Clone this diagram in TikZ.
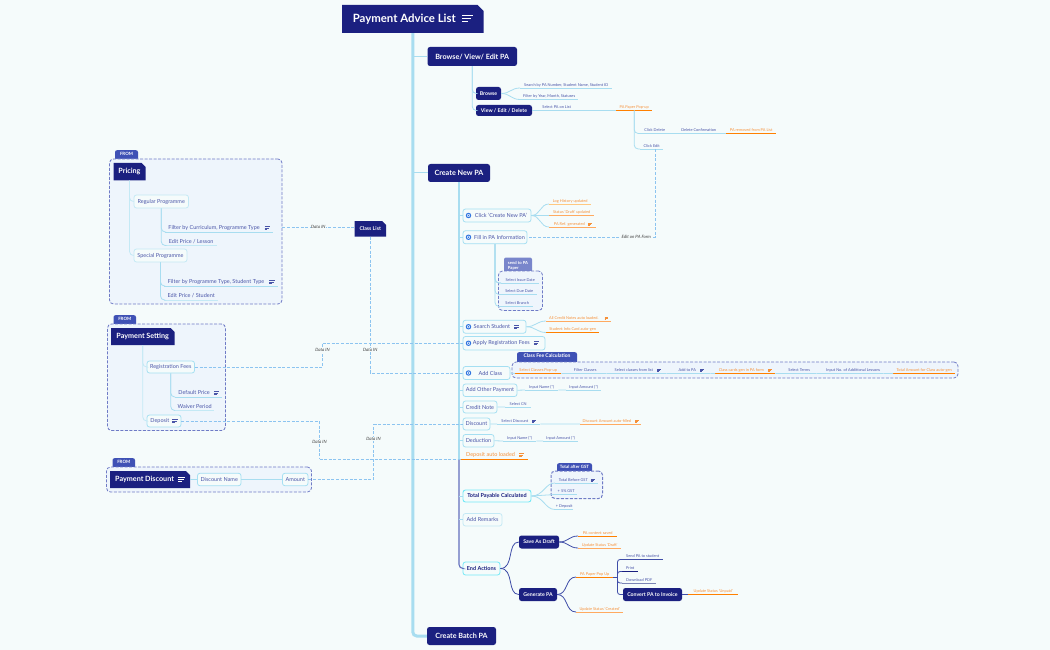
\documentclass[tikz,border=0pt]{standalone}
\usepackage{fontspec}
\setmainfont{Lato}
\usetikzlibrary{shapes.misc}
\definecolor{pagebg}{HTML}{F5FBFB}
\definecolor{navy}{HTML}{1B2080}
\definecolor{ink}{HTML}{4A55A8}
\definecolor{tabblue}{HTML}{3F51B5}
\definecolor{tabsoft}{HTML}{7986CB}
\definecolor{grpfill}{HTML}{EEF5FC}
\definecolor{grpedge}{HTML}{6F7BC6}
\definecolor{sky}{HTML}{A8DDF0}
\definecolor{skysoft}{HTML}{C4E9F5}
\definecolor{pilledge}{HTML}{A5DFF2}
\definecolor{dashln}{HTML}{8CC4F0}
\definecolor{orgA}{HTML}{FF8000}
\definecolor{orgB}{HTML}{FFAA60}
\definecolor{orgC}{HTML}{FFC880}
\definecolor{orgtxt}{HTML}{F5913A}
\definecolor{indigo}{HTML}{3F4DA8}
\definecolor{tickblue}{HTML}{2F74E0}
\newcommand{\tinyf}{\fontsize{3.9}{5}\selectfont}
\newcommand{\midf}{\fontsize{5.5}{6.6}\selectfont}
\newcommand{\topf}{\fontsize{7.2}{8.6}\bfseries\selectfont}
\newcommand{\subf}{\fontsize{5.2}{6.2}\bfseries\selectfont}
\newcommand{\noteic}{\raisebox{.05em}{\vbox{\hrule width .95em height .07em \vskip .17em \hrule width .8em height .07em \vskip .17em \hrule width .5em height .07em}}}
\tikzset{
 chamf/.style={chamfered rectangle,chamfered rectangle corners=north east,chamfered rectangle sep=2pt,fill=navy,text=white,font=\topf,inner sep=0},
 topic/.style={rectangle,rounded corners=2.5,fill=navy,text=white,font=\topf,inner sep=0},
 sub/.style={topic,font=\subf},
 pill/.style={rectangle,rounded corners=2.5,draw=pilledge,fill=pagebg,line width=.8,text=ink,font=\midf,inner sep=0},
 lf/.style={rectangle,anchor=south west,inner sep=0,inner ysep=.9,text height=3pt,text depth=.8pt,text=ink,font=\tinyf},
 leaf/.style={lf,append after command={(\tikzlastnode.south west) edge[draw=#1,line width=.8] (\tikzlastnode.south east)}},
 leaf/.default=sky,
 oleaf/.style={lf,text=orgtxt,append after command={(\tikzlastnode.south west) edge[draw=#1,line width=1] (\tikzlastnode.south east)}},
 oleaf/.default=orgA,
 midleaf/.style={leaf=#1,font=\midf,text height=3.9pt,text depth=1pt,inner ysep=1.2},
 midleaf/.default=sky,
 grp/.style={rectangle,rounded corners=4,draw=grpedge,fill=grpfill,dash pattern=on 3pt off 1.5pt,line width=.8,inner sep=0},
 tab/.style={rectangle,anchor=north,rounded corners=2,fill=tabblue,text=white,font=\fontsize{4.4}{5.2}\bfseries\selectfont,inner sep=0,inner ysep=2,text height=3.2pt,text depth=5pt},
 softtab/.style={rectangle,rounded corners=2,fill=tabsoft,text=white,font=\fontsize{4.2}{5.2}\bfseries\selectfont,inner sep=0,align=left},
 tick/.style={circle,draw=tickblue,line width=1,fill=white,inner sep=0,minimum size=4.4,
  path picture={\fill[tickblue] (path picture bounding box.center) circle (.8);}},
 lnk/.style={draw=sky,line width=.8},
 navln/.style={draw=indigo,line width=.8},
 tree/.style={lnk,rounded corners=4},
 dashlnk/.style={draw=dashln,line width=1,dash pattern=on 3pt off 1.6pt},
 datalbl/.style={fill=pagebg,inner sep=.6,text=black!75,font=\fontsize{4.4}{5}\itshape\selectfont},
}
\begin{document}
\begin{tikzpicture}[x=1pt,y=-1pt]
\fill[pagebg] (0,0) rectangle (1050,650);
\useasboundingbox (0,0) rectangle (1050,650);
% main column
\node[chamf,chamfered rectangle sep=3pt,minimum width=141.5,minimum height=28,font=\fontsize{11.4}{13}\bfseries\selectfont] (root) at (412.75,19) {Payment Advice List\hspace{6pt}\noteic};
\node[topic,minimum width=89.5,minimum height=19] (browse) at (472.25,56.5) {Browse/ View/ Edit PA};
\node[topic,minimum width=62,minimum height=18] (createpa) at (459,173) {Create New PA};
\node[topic,minimum width=69,minimum height=18] (batch) at (461.5,636) {Create Batch PA};
\draw[draw=sky,line width=3,rounded corners=4] (root.south) |- (batch.west);
\draw[lnk,line width=1] (root.south |- browse.west)--(browse.west) (root.south |- createpa.west)--(createpa.west);
% browse
\node[sub,minimum width=25,minimum height=13] (bwsub) at (488.5,93.5) {Browse};
\node[sub,minimum width=56,minimum height=11] (viewed) at (504,110.5) {View / Edit / Delete};
\draw[tree] (browse.south) |- (bwsub.west); \draw[tree] (browse.south) |- (viewed.west);
\node[leaf,minimum width=92] (srchby) at (520,88) {Search by PA Number, Student Name, Student ID};
\node[leaf,minimum width=58] (fltby) at (520,99.5) {Filter by Year, Month, Statuses};
\draw[lnk] (bwsub.east) .. controls +(9,0) and +(-9,0) .. (srchby.south west);
\draw[lnk] (bwsub.east) .. controls +(9,0) and +(-9,0) .. (fltby.south west);
\node[leaf,minimum width=41] (selpa) at (536,110.5) {Select PA on List};
\node[oleaf,minimum width=36] (popup) at (616,110.5) {PA Paper Pop-up};
\node[leaf,minimum width=29] (clkdel) at (640,133.5) {Click Delete};
\node[leaf,minimum width=45] (delconf) at (676,133.5) {Delete Confirmation};
\node[oleaf,minimum width=50] (removed) at (726,133.5) {PA removed from PA List};
\node[leaf,minimum width=23] (clkedit) at (640,149) {Click Edit};
\draw[lnk] (viewed.east)--(selpa.south west) (selpa.south east)--(popup.south west) (clkdel.south east)--(delconf.south west) (delconf.south east)--(removed.south west);
\draw[tree] (popup.south) |- (clkdel.south west); \draw[tree] (popup.south) |- (clkedit.south west);
% create new PA steps
\node[pill,minimum width=68,minimum height=13] (clickpa) at (497,215.5) {\hspace{8pt}Click 'Create New PA'};
\node[pill,minimum width=64,minimum height=13] (fillinfo) at (495,237.25) {\hspace{9pt}Fill in PA Information};
\node[pill,minimum width=63,minimum height=13] (searchst) at (494.5,326.75) {\hspace{4pt}Search Student\hspace{4pt}\noteic};
\node[pill,minimum width=82,minimum height=13.5] (applyfee) at (504,343.25) {\hspace{4pt}Apply Registration Fees\hspace{4pt}\noteic};
\node[pill,minimum width=47,minimum height=13] (addclass) at (486.5,373) {\hspace{8pt}Add Class};
\node[pill,minimum width=54,minimum height=12.5] (addother) at (490,390.25) {Add Other Payment};
\node[pill,minimum width=34,minimum height=12] (credit) at (480,407) {Credit Note};
\node[pill,minimum width=27,minimum height=12] (discount) at (476.5,424) {Discount};
\node[pill,minimum width=31,minimum height=12.5] (deduct) at (478.5,440.75) {Deduction};
\node[oleaf=orgA,font=\midf,text height=3.9pt,text depth=1pt,inner ysep=1.2,minimum width=66] (depauto) at (462,459) {Deposit auto loaded\hspace{4pt}\noteic};
\node[pill,draw=pilledge!70!cyan,line width=.9,font=\midf\bfseries,text=navy,minimum width=68,minimum height=12] (totalpay) at (497,496) {Total Payable Calculated};
\node[pill,draw=skysoft,minimum width=39,minimum height=12.5] (remarks) at (482.5,519.75) {Add Remarks};
\node[pill,draw=pilledge!70!cyan,font=\midf\bfseries,text=navy,minimum width=37,minimum height=13] (endact) at (481.5,568.5) {End Actions};
\node[tick] (tickA) at (468.5,215.5) {}; \node[tick] (tickB) at (468.5,237.25) {}; \node[tick] (tickC) at (468.5,326.75) {};
\node[tick] (tickD) at (468.5,343.25) {}; \node[tick] (tickE) at (468.5,373) {};
\draw[draw=sky,line width=1.3] (createpa.south) -- (createpa.south |- depauto.south west);
\draw[draw=tabsoft!60!indigo,line width=1.1,rounded corners=4] (createpa.south |- depauto.south west) |- (endact.west);
\draw[lnk] (createpa.south |- clickpa.west)--(clickpa.west) (createpa.south |- fillinfo.west)--(fillinfo.west) (createpa.south |- searchst.west)--(searchst.west) (createpa.south |- applyfee.west)--(applyfee.west) (createpa.south |- addclass.west)--(addclass.west) (createpa.south |- addother.west)--(addother.west) (createpa.south |- credit.west)--(credit.west) (createpa.south |- discount.west)--(discount.west) (createpa.south |- deduct.west)--(deduct.west) (createpa.south |- totalpay.west)--(totalpay.west) (createpa.south |- remarks.west)--(remarks.west);
\draw[draw=orgA,line width=1] (createpa.south |- depauto.south west)--(depauto.south west);
\node[oleaf=orgC,minimum width=42] (loghist) at (549,204) {Log History updated};
\node[oleaf=orgB,minimum width=45] (stdraft) at (549,215.5) {Status 'Draft' updated};
\node[oleaf=orgB,minimum width=47] (paref) at (549,227) {PA Ref. generated\hspace{3pt}\noteic};
\draw[lnk] (clickpa.east) .. controls +(9,0) and +(-9,0) .. (loghist.south west);
\draw[lnk] (clickpa.east) .. controls +(9,0) and +(-9,0) .. (stdraft.south west);
\draw[lnk] (clickpa.east) .. controls +(9,0) and +(-9,0) .. (paref.south west);
\node[softtab,minimum width=28,minimum height=16] (sendtab) at (518,265.5) {send to PA\\Paper};
\node[grp,minimum width=44,minimum height=39.5] (sendbox) at (520.5,290.75) {};
\node[leaf,minimum width=38] (issue) at (501,283) {Select Issue Date};
\node[leaf,minimum width=36] (duedate) at (501,294.5) {Select Due Date};
\node[leaf,minimum width=32] (branch) at (501,306.5) {Select Branch};
\draw[tree,line width=1.1] (fillinfo.south) |- (issue.south west); \draw[tree] (fillinfo.south) |- (duedate.south west); \draw[tree] (fillinfo.south) |- (branch.south west);
\node[oleaf=orgB,minimum width=65] (allcn) at (546,321) {All Credit Notes auto loaded.\hspace{6pt}\noteic};
\node[oleaf=orgA,minimum width=53] (infocard) at (546,332.5) {Student Info Card auto-gen};
\draw[lnk] (searchst.east) .. controls +(9,0) and +(-9,0) .. (allcn.south west);
\draw[lnk] (searchst.east) .. controls +(9,0) and +(-9,0) .. (infocard.south west);
% class fee
\node[tab,minimum width=60,font=\fontsize{5}{6}\bfseries\selectfont] (feetab) at (547,352) {Class Fee Calculation};
\node[grp,minimum width=446,minimum height=16] (feebox) at (735,370) {};
\node[oleaf,minimum width=46] (clspop) at (515,373.5) {Select Classes Pop-up};
\node[leaf,minimum width=42] (clsflt) at (564,373.5) {Filter Classes};
\node[leaf,minimum width=57] (clslist) at (609,373.5) {Select classes from list\hspace{4pt}\noteic};
\node[leaf,minimum width=38] (clsadd) at (672,373.5) {Add to PA\hspace{4pt}\noteic};
\node[oleaf,minimum width=60] (clscard) at (715,373.5) {Class cards gen in PA form\hspace{4pt}\noteic};
\node[leaf,minimum width=34] (clsterm) at (782,373.5) {Select Terms};
\node[leaf,minimum width=60] (clsless) at (823,373.5) {Input No. of Additional Lessons};
\node[oleaf,minimum width=62] (clstot) at (893,373.5) {Total Amount for Class auto-gen};
\draw[lnk] (addclass.east)--(clspop.south west) (clspop.south east)--(clsflt.south west) (clsflt.south east)--(clslist.south west) (clslist.south east)--(clsadd.south west) (clsadd.south east)--(clscard.south west) (clscard.south east)--(clsterm.south west) (clsterm.south east)--(clsless.south west) (clsless.south east)--(clstot.south west);
% other payment, credit, discount, deduction
\node[leaf,minimum width=33] (onam) at (525,390) {Input Name (*)};
\node[leaf,minimum width=35] (oamt) at (566,390) {Input Amount (*)};
\node[leaf,minimum width=26] (selcn) at (505,407) {Select CN};
\node[leaf,minimum width=43] (seldisc) at (497,424) {Select Discount\hspace{4pt}\noteic};
\node[oleaf=orgB,minimum width=61] (discamt) at (580,424) {Discount Amount auto-filled\hspace{4pt}\noteic};
\node[leaf,minimum width=33] (dednam) at (503,441) {Input Name (*)};
\node[leaf,minimum width=35] (dedamt) at (543,441) {Input Amount (*)};
\draw[lnk] (addother.east)--(onam.south west) (onam.south east)--(oamt.south west) (credit.east)--(selcn.south west) (discount.east)--(seldisc.south west) (seldisc.south east)--(discamt.south west) (deduct.east)--(dednam.south west) (dednam.south east)--(dedamt.south west);
% totals
\node[tab,minimum width=35] (gsttab) at (574.5,463) {Total after GST};
\node[grp,line width=1,minimum width=51.5,minimum height=27.5] (gstbox) at (576.75,484.75) {};
\node[leaf,minimum width=43] (totbef) at (555,483) {Total Before GST\hspace{3pt}\noteic};
\node[leaf,minimum width=22] (gstadd) at (555,494.5) {+ 5\% GST};
\node[leaf,minimum width=18] (depadd) at (555,509.5) {+ Deposit};
\draw[lnk] (totalpay.east) .. controls +(12,0) and +(-10,0) .. (totbef.south west);
\draw[lnk] (totalpay.east) -- (gstadd.south west);
\draw[lnk] (totalpay.east) .. controls +(12,0) and +(-10,0) .. (depadd.south west);
% end actions
\node[sub,minimum width=40,minimum height=13] (savedraft) at (539,542) {Save As Draft};
\node[sub,minimum width=38,minimum height=13] (genpa) at (538,594.5) {Generate PA};
\draw[navln] (endact.east) .. controls +(14,0) and +(-12,0) .. (savedraft.west);
\draw[navln] (endact.east) .. controls +(14,0) and +(-12,0) .. (genpa.west);
\node[oleaf,minimum width=39] (pcsaved) at (578,536) {PA content saved};
\node[oleaf=orgB,minimum width=43] (upddraft) at (578,548) {Update Status 'Draft'};
\draw[navln] (savedraft.east) .. controls +(9,0) and +(-9,0) .. (pcsaved.south west);
\draw[navln] (savedraft.east) .. controls +(9,0) and +(-9,0) .. (upddraft.south west);
\node[oleaf,minimum width=37] (paperup) at (576,577) {PA Paper Pop Up};
\node[oleaf=orgB,minimum width=47] (updcrt) at (576,612) {Update Status 'Created'};
\draw[navln] (genpa.east) .. controls +(11,0) and +(-11,0) .. (paperup.south west);
\draw[navln] (genpa.east) .. controls +(11,0) and +(-11,0) .. (updcrt.south west);
\coordinate (papfork) at (617.5,577);
\node[leaf=indigo,minimum width=41] (sendst) at (622,559.5) {Send PA to student};
\node[leaf=navy,minimum width=16] (printpa) at (622,571.5) {Print};
\node[leaf=tabsoft!70!gray,minimum width=34] (dlpdf) at (622,583) {Download PDF};
\node[sub,minimum width=59,minimum height=13] (convert) at (652.5,594.5) {Convert PA to Invoice};
\node[oleaf,minimum width=50] (unpaid) at (688,594.5) {Update Status 'Unpaid'};
\draw[navln] (paperup.south east)--(papfork) (convert.east)--(unpaid.south west);
\draw[navln,rounded corners=2.5] (papfork) |- (sendst.south west); \draw[navln,rounded corners=2.5] (papfork) |- (printpa.south west);
\draw[navln,rounded corners=2.5] (papfork) |- (dlpdf.south west); \draw[navln,rounded corners=2.5] (papfork) |- (convert.west);
% pricing
\node[tab,minimum width=23] (fromA) at (126.5,150) {FROM};
\node[grp,minimum width=172.5,minimum height=145] (pricebox) at (195.75,231.5) {};
\node[chamf,minimum width=32,minimum height=17.5] (pricing) at (129.5,171.75) {Pricing};
\node[pill,draw=skysoft,minimum width=54.5,minimum height=13] (regprog) at (161.25,201.5) {Regular Programme};
\node[pill,draw=skysoft,minimum width=53,minimum height=13] (specprog) at (160.5,255.5) {Special Programme};
\node[midleaf,minimum width=108] (filtcur) at (165,232) {Filter by Curriculum, Programme Type\hspace{5pt}\noteic};
\node[midleaf=skysoft,minimum width=52] (editles) at (165,245.5) {Edit Price / Lesson};
\node[midleaf,minimum width=114] (filtprg) at (164,286) {Filter by Programme Type, Student Type\hspace{5pt}\noteic};
\node[midleaf=skysoft,minimum width=54] (editstu) at (164,300) {Edit Price / Student};
\draw[tree,draw=skysoft] (pricing.south) |- (regprog.west); \draw[tree,draw=skysoft] (pricing.south) |- (specprog.west);
\draw[tree] (regprog.south) |- (filtcur.south west); \draw[tree] (regprog.south) |- (editles.south west);
\draw[tree] (specprog.south) |- (filtprg.south west); \draw[tree] (specprog.south) |- (editstu.south west);
\node[chamf,font=\subf,minimum width=31.5,minimum height=15.5] (classlist) at (370.25,228.75) {Class List};
% payment setting
\node[tab,minimum width=22.5] (fromB) at (124.75,315) {FROM};
\node[grp,minimum width=118,minimum height=106.5] (paybox) at (166.5,377.25) {};
\node[chamf,minimum width=63.5,minimum height=17] (paysetg) at (142.75,336.5) {Payment Setting};
\node[pill,minimum width=47.5,minimum height=12] (regfees) at (170.75,367) {Registration Fees};
\node[pill,minimum width=34,minimum height=12] (deposit) at (164,421) {Deposit\hspace{3pt}\noteic};
\node[midleaf,minimum width=47] (defprice) at (175,397) {Default Price\hspace{4pt}\noteic};
\node[midleaf=skysoft,minimum width=39] (waiver) at (175,410.5) {Waiver Period};
\draw[tree,draw=skysoft] (paysetg.south) |- (regfees.west); \draw[tree,draw=skysoft] (paysetg.south) |- (deposit.west);
\draw[tree] (regfees.south) |- (defprice.south west); \draw[tree] (regfees.south) |- (waiver.south west);
% payment discount
\node[tab,minimum width=22.5] (fromC) at (123.75,458) {FROM};
\node[grp,minimum width=205,minimum height=25] (discbox) at (209,479.5) {};
\node[chamf,minimum width=80,minimum height=17] (paydisc) at (150,479.5) {Payment Discount\hspace{4pt}\noteic};
\node[pill,minimum width=43.5,minimum height=12.5] (discname) at (219.25,479.5) {Discount Name};
\node[pill,minimum width=25.5,minimum height=12.5] (amount) at (295.25,479.5) {Amount};
\draw[lnk] (paydisc.east)--(discname.west) (discname.east)--(amount.west);
% data links
\coordinate (bendA) at (322.5,343.25); \coordinate (bendB) at (319.5,459); \coordinate (bendC) at (373.5,424);
\draw[dashlnk] ([yshift=1.5pt]pricebox.east |- classlist.west)--([yshift=1.5pt]classlist.west) node[midway,datalbl] (dataA) {Data IN};
\draw[dashlnk] (classlist.south) |- (addclass.west) node[pos=.415,datalbl] (dataB) {Data IN};
\draw[dashlnk] (regfees.east) -| (bendA) node[pos=.86,datalbl] (dataC) {Data IN};
\draw[dashlnk] (bendA)--(applyfee.west);
\draw[dashlnk] (deposit.east) -| (bendB) node[pos=.775,datalbl] (dataD) {Data IN};
\draw[dashlnk] (bendB)--(depauto.south west);
\draw[dashlnk] (amount.east) -| (bendC) node[pos=.865,datalbl] (dataE) {Data IN};
\draw[dashlnk] (bendC)--(discount.west);
\draw[dashlnk] ([xshift=3.5pt]clkedit.south) |- (fillinfo.east) node[pos=.574,datalbl] (dataF) {Edit on PA Form};
\end{tikzpicture}
\end{document}
